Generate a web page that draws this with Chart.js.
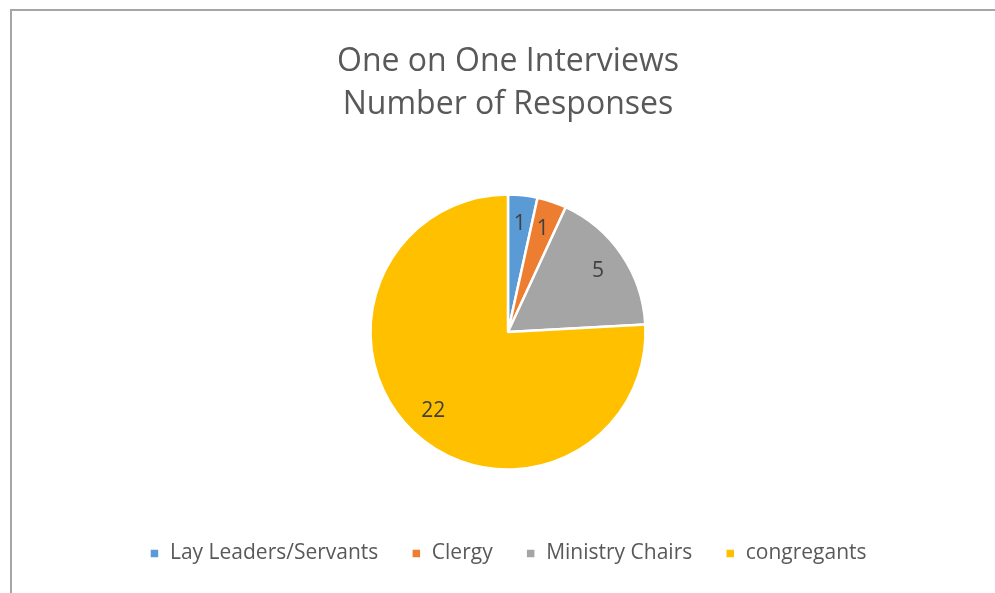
<!DOCTYPE html>
<html>
<head>
<meta charset="utf-8">
<script src="https://cdn.jsdelivr.net/npm/chart.js@4.4.1/dist/chart.umd.min.js"></script>
<style>
  html, body { margin: 0; padding: 0; background: #fff; }
  #frame {
    position: absolute; left: 10px; top: 9px;
    width: 1000px; height: 600px;
    border: 2px solid #a6a6a6;
    box-sizing: border-box;
  }
  #myChart { position: absolute; left: 0; top: 0; }
</style>
</head>
<body>
<div id="frame"></div>
<canvas id="myChart" width="995" height="593"></canvas>
<script>
const categories = ['Lay Leaders/Servants', 'Clergy', 'Ministry Chairs', 'congregants'];
const responses = [1, 1, 5, 22];
const sliceColors = ['#5B9BD5', '#ED7D31', '#A5A5A5', '#FFC000'];
const titleLines = ['One on One Interviews', 'Number of Responses'];

const fontFamily = '"Open Sans", Lato, sans-serif';

// values written inside each slice, like the excel data labels
const sliceLabels = {
  id: 'sliceLabels',
  afterDatasetsDraw(chart) {
    const c = chart.ctx;
    const meta = chart.getDatasetMeta(0);
    c.save();
    c.font = '21px ' + fontFamily;
    c.fillStyle = '#404040';
    c.textAlign = 'center';
    c.textBaseline = 'middle';
    meta.data.forEach((arc, i) => {
      const mid = (arc.startAngle + arc.endAngle) / 2;
      const r = arc.outerRadius * 0.79;
      c.fillText(String(chart.data.datasets[0].data[i]), arc.x + Math.cos(mid) * r, arc.y + Math.sin(mid) * r);
    });
    c.restore();
  }
};

const ctx = document.getElementById('myChart').getContext('2d');

const myChart = new Chart(ctx, {
  type: 'pie',
  data: {
    labels: categories,
    datasets: [{
      data: responses,
      backgroundColor: sliceColors,
      borderColor: '#ffffff',
      borderWidth: 2.5
    }]
  },
  options: {
    responsive: false,
    animation: false,
    radius: 137.5,
    layout: { padding: { left: 21, right: 0, top: 16, bottom: 19 } },
    plugins: {
      title: {
        display: true,
        text: titleLines,
        color: '#595959',
        font: { family: fontFamily, size: 32, weight: 'normal', lineHeight: 1.36 },
        padding: { top: 24, bottom: 27 }
      },
      legend: {
        position: 'bottom',
        labels: {
          color: '#595959',
          font: { family: fontFamily, size: 21 },
          boxWidth: 10,
          boxHeight: 10,
          padding: 33
        }
      },
      tooltip: { enabled: false }
    }
  },
  plugins: [sliceLabels]
});
</script>
</body>
</html>
